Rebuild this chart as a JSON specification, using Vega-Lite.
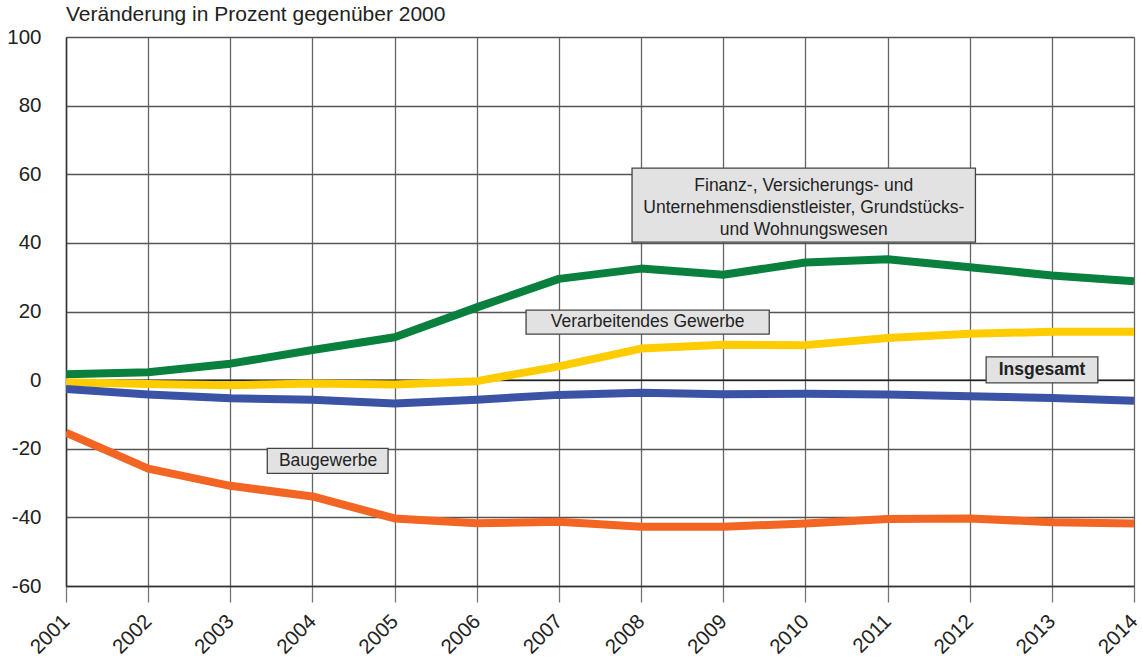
{
  "$schema": "https://vega.github.io/schema/vega-lite/v6.json",
  "autosize": {"type": "none"},
  "padding": {"left": 66, "top": 37, "right": 9, "bottom": 74},
  "width": 1068,
  "height": 549,
  "background": "white",
  "config": {
    "font": "Liberation Sans",
    "view": {"stroke": null},
    "axis": {"labelFont": "Liberation Sans", "labelFontSize": 20.5, "labelColor": "#222222"}
  },
  "title": {
    "text": "Veränderung in Prozent gegenüber 2000",
    "anchor": "start",
    "frame": "group",
    "fontSize": 21,
    "fontWeight": "normal",
    "color": "#222222",
    "font": "Liberation Sans",
    "baseline": "bottom",
    "offset": 4,
    "dy": 23
  },
  "datasets": {
    "series": [
      {"year": 2001, "series": "Finanz", "value": 1.7},
      {"year": 2002, "series": "Finanz", "value": 2.3},
      {"year": 2003, "series": "Finanz", "value": 4.8},
      {"year": 2004, "series": "Finanz", "value": 8.8},
      {"year": 2005, "series": "Finanz", "value": 12.5},
      {"year": 2006, "series": "Finanz", "value": 21.2},
      {"year": 2007, "series": "Finanz", "value": 29.5},
      {"year": 2008, "series": "Finanz", "value": 32.5},
      {"year": 2009, "series": "Finanz", "value": 30.7},
      {"year": 2010, "series": "Finanz", "value": 34.3},
      {"year": 2011, "series": "Finanz", "value": 35.2},
      {"year": 2012, "series": "Finanz", "value": 32.9},
      {"year": 2013, "series": "Finanz", "value": 30.5},
      {"year": 2014, "series": "Finanz", "value": 28.8},
      {"year": 2001, "series": "Verarbeitendes Gewerbe", "value": -0.6},
      {"year": 2002, "series": "Verarbeitendes Gewerbe", "value": -1.1},
      {"year": 2003, "series": "Verarbeitendes Gewerbe", "value": -1.5},
      {"year": 2004, "series": "Verarbeitendes Gewerbe", "value": -1.0},
      {"year": 2005, "series": "Verarbeitendes Gewerbe", "value": -1.3},
      {"year": 2006, "series": "Verarbeitendes Gewerbe", "value": -0.3},
      {"year": 2007, "series": "Verarbeitendes Gewerbe", "value": 4.0},
      {"year": 2008, "series": "Verarbeitendes Gewerbe", "value": 9.2},
      {"year": 2009, "series": "Verarbeitendes Gewerbe", "value": 10.3},
      {"year": 2010, "series": "Verarbeitendes Gewerbe", "value": 10.2},
      {"year": 2011, "series": "Verarbeitendes Gewerbe", "value": 12.3},
      {"year": 2012, "series": "Verarbeitendes Gewerbe", "value": 13.5},
      {"year": 2013, "series": "Verarbeitendes Gewerbe", "value": 14.1},
      {"year": 2014, "series": "Verarbeitendes Gewerbe", "value": 14.1},
      {"year": 2001, "series": "Insgesamt", "value": -2.6},
      {"year": 2002, "series": "Insgesamt", "value": -4.2},
      {"year": 2003, "series": "Insgesamt", "value": -5.3},
      {"year": 2004, "series": "Insgesamt", "value": -5.7},
      {"year": 2005, "series": "Insgesamt", "value": -6.8},
      {"year": 2006, "series": "Insgesamt", "value": -5.7},
      {"year": 2007, "series": "Insgesamt", "value": -4.3},
      {"year": 2008, "series": "Insgesamt", "value": -3.7},
      {"year": 2009, "series": "Insgesamt", "value": -4.1},
      {"year": 2010, "series": "Insgesamt", "value": -4.0},
      {"year": 2011, "series": "Insgesamt", "value": -4.2},
      {"year": 2012, "series": "Insgesamt", "value": -4.7},
      {"year": 2013, "series": "Insgesamt", "value": -5.2},
      {"year": 2014, "series": "Insgesamt", "value": -6.0},
      {"year": 2001, "series": "Baugewerbe", "value": -15.3},
      {"year": 2002, "series": "Baugewerbe", "value": -25.8},
      {"year": 2003, "series": "Baugewerbe", "value": -30.8},
      {"year": 2004, "series": "Baugewerbe", "value": -33.9},
      {"year": 2005, "series": "Baugewerbe", "value": -40.3},
      {"year": 2006, "series": "Baugewerbe", "value": -41.7},
      {"year": 2007, "series": "Baugewerbe", "value": -41.3},
      {"year": 2008, "series": "Baugewerbe", "value": -42.7},
      {"year": 2009, "series": "Baugewerbe", "value": -42.7},
      {"year": 2010, "series": "Baugewerbe", "value": -41.8},
      {"year": 2011, "series": "Baugewerbe", "value": -40.5},
      {"year": 2012, "series": "Baugewerbe", "value": -40.3},
      {"year": 2013, "series": "Baugewerbe", "value": -41.4},
      {"year": 2014, "series": "Baugewerbe", "value": -41.8}
    ],
    "boxes": [
      {"x1": 2007.89, "x2": 2012.07, "y1": 61.8, "y2": 40.2, "xc": 2009.98, "yc": 56.6, "label": "Finanz-, Versicherungs- und\nUnternehmensdienstleister, Grundstücks-\nund Wohnungswesen", "bold": false},
      {"x1": 2006.60, "x2": 2009.56, "y1": 20.4, "y2": 13.4, "xc": 2008.08, "yc": 16.9, "label": "Verarbeitendes Gewerbe", "bold": false},
      {"x1": 2012.20, "x2": 2013.56, "y1": 6.8, "y2": -0.8, "xc": 2012.88, "yc": 3.0, "label": "Insgesamt", "bold": true},
      {"x1": 2003.45, "x2": 2004.92, "y1": -19.9, "y2": -27.2, "xc": 2004.19, "yc": -23.6, "label": "Baugewerbe", "bold": false}
    ],
    "zero": [{"v": 0}]
  },
  "layer": [
    {
      "data": {"name": "zero"},
      "mark": {"type": "rule", "color": "#222222", "strokeWidth": 1.5},
      "encoding": {
        "y": {
          "field": "v", "type": "quantitative",
          "scale": {"domain": [-60, 100], "nice": false, "zero": false},
          "axis": {
            "title": null,
            "values": [-60, -50, -40, -30, -20, -10, 0, 10, 20, 30, 40, 50, 60, 70, 80, 90, 100],
            "labelExpr": "datum.value % 20 === 0 ? (datum.value < 0 ? '-' + abs(datum.value) : '' + datum.value) : ''",
            "tickSize": 8,
            "tickColor": "#555555",
            "tickWidth": 1.2,
            "tickOpacity": {"condition": {"test": "datum.value % 20 === 0", "value": 0}, "value": 1},
            "labelPadding": 17,
            "grid": true,
            "gridColor": "#555555",
            "gridWidth": 1.3,
            "gridOpacity": {"condition": {"test": "datum.value % 20 === 0", "value": 1}, "value": 0},
            "domain": true,
            "domainColor": "#333333",
            "domainWidth": 1.5
          }
        }
      }
    },
    {
      "data": {"name": "series"},
      "mark": {"type": "line", "strokeWidth": 8, "strokeCap": "butt", "strokeJoin": "round", "clip": true},
      "encoding": {
        "x": {
          "field": "year", "type": "quantitative",
          "scale": {"domain": [2001, 2014], "nice": false, "zero": false},
          "axis": {
            "title": null,
            "values": [2001, 2002, 2003, 2004, 2005, 2006, 2007, 2008, 2009, 2010, 2011, 2012, 2013, 2014],
            "format": "d",
            "labelAngle": -45,
            "labelAlign": "right",
            "labelBaseline": "middle",
            "labelPadding": 16,
            "labelOverlap": false,
            "labelFlush": false,
            "tickSize": 16,
            "tickColor": "#777777",
            "tickWidth": 1.3,
            "grid": true,
            "gridColor": "#666666",
            "gridWidth": 1.3,
            "domain": true,
            "domainColor": "#333333",
            "domainWidth": 1.5
          }
        },
        "y": {"field": "value", "type": "quantitative"},
        "color": {
          "field": "series", "type": "nominal",
          "scale": {
            "domain": ["Finanz", "Verarbeitendes Gewerbe", "Insgesamt", "Baugewerbe"],
            "range": ["#0a803e", "#ffcc00", "#3a53a4", "#f26522"]
          },
          "legend": null
        }
      }
    },
    {
      "data": {"name": "boxes"},
      "mark": {"type": "rect", "fill": "#e2e2e2", "stroke": "#444444", "strokeWidth": 1.3},
      "encoding": {
        "x": {"field": "x1", "type": "quantitative"},
        "x2": {"field": "x2"},
        "y": {"field": "y1", "type": "quantitative"},
        "y2": {"field": "y2"}
      }
    },
    {
      "data": {"name": "boxes"},
      "transform": [{"filter": "!datum.bold"}],
      "mark": {"type": "text", "fontSize": 17.5, "color": "#222222", "align": "center", "baseline": "middle", "lineBreak": "\n", "lineHeight": 22, "font": "Liberation Sans"},
      "encoding": {
        "x": {"field": "xc", "type": "quantitative"},
        "y": {"field": "yc", "type": "quantitative"},
        "text": {"field": "label"}
      }
    },
    {
      "data": {"name": "boxes"},
      "transform": [{"filter": "datum.bold"}],
      "mark": {"type": "text", "fontSize": 17.5, "fontWeight": "bold", "color": "#222222", "align": "center", "baseline": "middle", "font": "Liberation Sans"},
      "encoding": {
        "x": {"field": "xc", "type": "quantitative"},
        "y": {"field": "yc", "type": "quantitative"},
        "text": {"field": "label"}
      }
    }
  ]
}
